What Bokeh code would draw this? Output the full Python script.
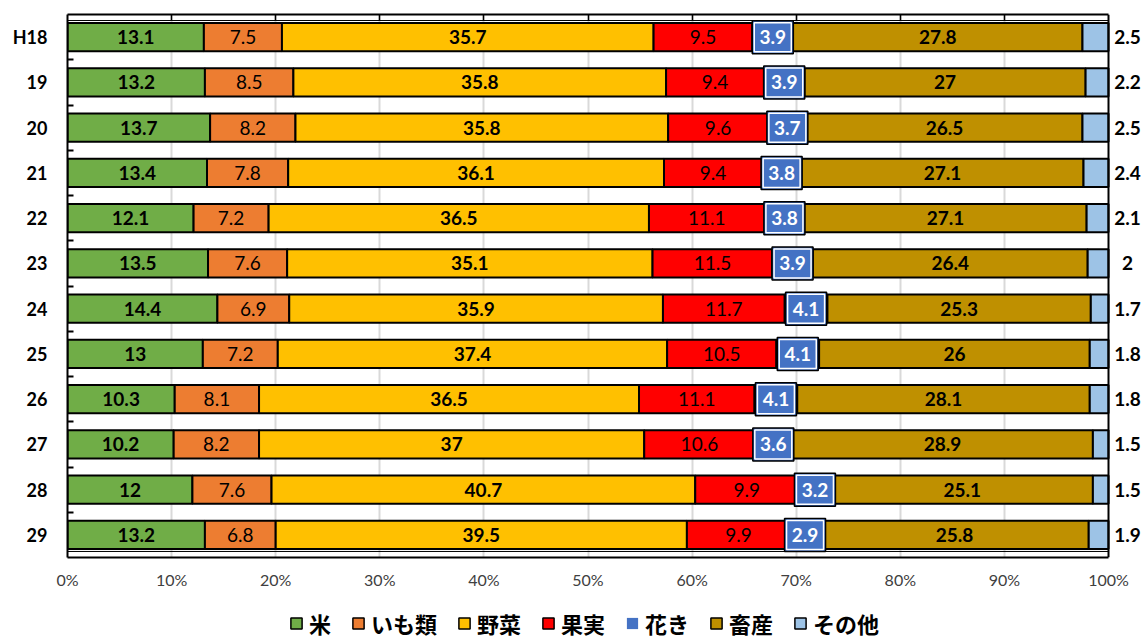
from bokeh.plotting import figure
from bokeh.layouts import column
from bokeh.models import Range1d, FixedTicker, LinearAxis, Span, Legend, LegendItem
from bokeh.core.properties import value
from bokeh.embed import file_html
from bokeh.resources import INLINE

years = ["H18", "19", "20", "21", "22", "23", "24", "25", "26", "27", "28", "29"]
categories = ["米", "いも類", "野菜", "果実", "花き", "畜産", "その他"]
rice = [13.1, 13.2, 13.7, 13.4, 12.1, 13.5, 14.4, 13, 10.3, 10.2, 12, 13.2]
imo = [7.5, 8.5, 8.2, 7.8, 7.2, 7.6, 6.9, 7.2, 8.1, 8.2, 7.6, 6.8]
yasai = [35.7, 35.8, 35.8, 36.1, 36.5, 35.1, 35.9, 37.4, 36.5, 37, 40.7, 39.5]
kajitsu = [9.5, 9.4, 9.6, 9.4, 11.1, 11.5, 11.7, 10.5, 11.1, 10.6, 9.9, 9.9]
kaki = [3.9, 3.9, 3.7, 3.8, 3.8, 3.9, 4.1, 4.1, 4.1, 3.6, 3.2, 2.9]
chikusan = [27.8, 27, 26.5, 27.1, 27.1, 26.4, 25.3, 26, 28.1, 28.9, 25.1, 25.8]
sonota = [2.5, 2.2, 2.5, 2.4, 2.1, 2, 1.7, 1.8, 1.8, 1.5, 1.5, 1.9]
colors = ["#70AD47", "#ED7D31", "#FFC000", "#FF0000", "#4472C4", "#BF9000", "#9DC3E6"]
x_ticks = [0, 10, 20, 30, 40, 50, 60, 70, 80, 90, 100]

series = [rice, imo, yasai, kajitsu, kaki, chikusan, sonota]
n = len(years)
idx = list(range(n))
totals = [sum(s[i] for s in series) for i in idx]

NUM_FONT = "Lato"
W = 1146

p = figure(width=W, height=592,
           x_range=Range1d(0, 103.65), y_range=Range1d(11.5, -0.5),
           output_backend="svg", toolbar_location=None,
           min_border_left=67, min_border_right=0, min_border_top=14, min_border_bottom=35)
p.outline_line_color = None
p.background_fill_color = "white"

# x axis (bottom)
p.xaxis.ticker = FixedTicker(ticks=x_ticks)
p.xaxis.bounds = (0, 100)
p.xaxis.major_label_overrides = {t: f"{t}%" for t in x_ticks}
p.xaxis.major_tick_line_color = None
p.xaxis.major_tick_out = 0
p.xaxis.major_tick_in = 0
p.xaxis.minor_tick_line_color = None
p.xaxis.minor_tick_out = 0
p.xaxis.axis_line_width = 2
p.xaxis.axis_line_color = "black"
p.xaxis.major_label_standoff = 12
p.xaxis.major_label_text_font = NUM_FONT
p.xaxis.major_label_text_font_size = "16px"
p.xaxis.major_label_text_color = "#404040"

# grid
p.xgrid.ticker = FixedTicker(ticks=x_ticks[1:-1])
p.xgrid.grid_line_color = "#D9D9D9"
p.xgrid.grid_line_width = 2
p.ygrid.grid_line_color = None

# y axis (left)
p.yaxis.ticker = FixedTicker(ticks=idx, minor_ticks=[i + 0.5 for i in range(n - 1)])
p.yaxis.major_label_overrides = {i: years[i] for i in idx}
p.yaxis.major_tick_line_color = None
p.yaxis.major_tick_out = 0
p.yaxis.minor_tick_in = 6
p.yaxis.minor_tick_out = 0
p.yaxis.minor_tick_line_width = 2
p.yaxis.minor_tick_line_color = "black"
p.yaxis.axis_line_width = 2
p.yaxis.axis_line_color = "black"
p.yaxis.major_label_standoff = 20
p.yaxis.major_label_text_font = NUM_FONT
p.yaxis.major_label_text_font_style = "bold"
p.yaxis.major_label_text_font_size = "18px"
p.yaxis.major_label_text_color = "black"

# top frame line with inward ticks (no labels)
top = LinearAxis(ticker=FixedTicker(ticks=x_ticks[1:-1]), bounds=(0, 100),
                 axis_line_width=2, axis_line_color="black",
                 major_tick_in=6, major_tick_out=0, major_tick_line_width=1.5,
                 major_tick_line_color="black", minor_tick_line_color=None,
                 minor_tick_out=0, major_label_text_color=None, major_label_standoff=0)
p.add_layout(top, "above")

p.add_layout(Span(location=100, dimension="height", line_color="black", line_width=2))
p.segment(x0=[0, 0], x1=[100, 100], y0=[-0.367, 11.367], y1=[-0.367, 11.367],
          line_color="black", line_width=1)

# bars
lefts = [0.0] * n
bounds = []
for k, s in enumerate(series):
    l = lefts[:]
    r = [l[i] + s[i] / totals[i] * 100 for i in idx]
    bounds.append((l, r))
    p.hbar(y=idx, left=l, right=r, height=0.62, fill_color=colors[k],
           line_color="black", line_width=2)
    lefts = r


def centers(k):
    l, r = bounds[k]
    return [(l[i] + r[i]) / 2 for i in idx]


def fmt(v):
    return f"{v:g}"


label_styles = {0: "bold", 1: "normal", 2: "bold", 3: "normal", 5: "bold"}
for k, style in label_styles.items():
    p.text(x=centers(k), y=idx, text=[fmt(v) for v in series[k]],
           text_align="center", text_baseline="middle",
           text_font=value(NUM_FONT), text_font_style=style,
           text_font_size="19px", text_color="black")

# 花き label boxes
kc = centers(4)
p.rect(x=kc, y=idx, width=41, height=33, width_units="screen", height_units="screen",
       fill_color=colors[4], line_color="black", line_width=1.5)
p.rect(x=kc, y=idx, width=37, height=29, width_units="screen", height_units="screen",
       fill_color=None, line_color="white", line_width=1.5)
p.text(x=kc, y=idx, text=[fmt(v) for v in kaki],
       text_align="center", text_baseline="middle",
       text_font=value(NUM_FONT), text_font_style="bold",
       text_font_size="19px", text_color="white")

# その他 labels outside
p.text(x=[100] * n, y=idx, text=[fmt(v) for v in sonota], x_offset=19,
       text_align="center", text_baseline="middle",
       text_font=value(NUM_FONT), text_font_style="bold",
       text_font_size="19px", text_color="black")

# legend in its own strip below (legend-only glyphs have zero size)
leg = figure(width=W, height=48, x_range=Range1d(0, 1), y_range=Range1d(0, 1),
             output_backend="svg", toolbar_location=None,
             x_axis_location=None, y_axis_location=None,
             min_border_left=0, min_border_right=0, min_border_top=0, min_border_bottom=0)
leg.outline_line_color = None
leg.xgrid.visible = False
leg.ygrid.visible = False
items = []
for k, c in enumerate(colors):
    r = leg.hbar(y=[0.5], left=[0.5], right=[0.5], height=0, fill_color=c,
                 line_color=(None if k == 4 else "black"), line_width=1.5)
    items.append(LegendItem(label=value(categories[k]), renderers=[r]))
legend = Legend(items=items, orientation="horizontal", location=(222, 1),
                glyph_width=14, glyph_height=14, label_standoff=6, spacing=20,
                padding=0, margin=0, border_line_color=None, background_fill_alpha=0,
                label_text_font="Noto Sans CJK JP", label_text_font_style="bold",
                label_text_font_size="22px", label_text_color="black")
leg.add_layout(legend)

open("out.html", "w").write(file_html(column(p, leg), INLINE))
